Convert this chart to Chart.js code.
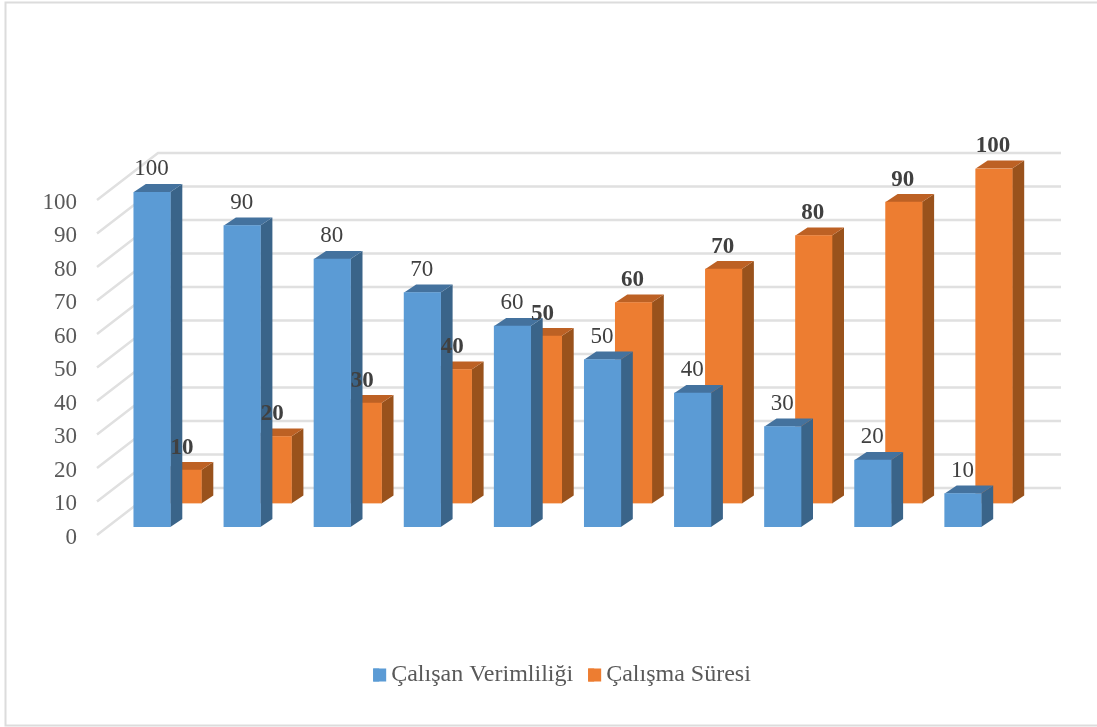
<!DOCTYPE html>
<html lang="tr">
<head>
<meta charset="utf-8">
<title>Çalışan Verimliliği ve Çalışma Süresi</title>
<script src="https://cdn.jsdelivr.net/npm/chart.js@4/dist/chart.umd.min.js"></script>
<style>
  html, body { margin: 0; padding: 0; background: #fff; }
  canvas { display: block; }
</style>
</head>
<body>
<canvas id="chart" width="1097" height="727"></canvas>
<script>
const categories = ['1', '2', '3', '4', '5', '6', '7', '8', '9', '10'];
const verimlilik = [100, 90, 80, 70, 60, 50, 40, 30, 20, 10];
const calismaSuresi = [10, 20, 30, 40, 50, 60, 70, 80, 90, 100];
const seriesNames = ['Çalışan Verimliliği', 'Çalışma Süresi'];

const FONT = '"Liberation Serif", "Times New Roman", serif';

// Pseudo-3D look: each series sits at its own depth, and every bar gets a
// side and a top face on top of the flat front face that Chart.js draws.
const FACE_DX = 12, FACE_DY = 8;
const LEGEND_SWATCH = 13;
const seriesStyle = [
  { dx: -15.5, dy: -8,    front: '#5b9bd5', side: '#3a6489', top: '#44729e', label: '#404040', weight: 'normal', labelDx: -0.5, labelDy: -23 },
  { dx: 15.5,  dy: -31.5, front: '#ed7d31', side: '#99521c', top: '#bd6124', label: '#404040', weight: 'bold',   labelDx: -1, labelDy: -22 }
];

const depthBars = {
  id: 'depthBars',
  // The y scale's labels sit left of its narrow box, so open its clip area.
  afterLayout(chart) {
    chart.scales.y.left = 0;
  },
  // Side walls: a receding diagonal at the axis, then a line along the back.
  beforeDatasetsDraw(chart) {
    const { ctx, scales: { y } } = chart;
    const wallLeft = chart.chartArea.left - 25.5;
    ctx.save();
    ctx.strokeStyle = '#e0e0e0';
    ctx.lineWidth = 2.5;
    for (const tick of y.ticks) {
      const py = y.getPixelForValue(tick.value);
      ctx.beginPath();
      ctx.moveTo(wallLeft, py);
      ctx.lineTo(wallLeft + 61, py - 47);
      ctx.lineTo(1061, py - 47);
      ctx.stroke();
    }
    ctx.restore();
  },
  beforeDatasetDraw(chart, args) {
    const { ctx } = chart;
    const s = seriesStyle[args.index];
    ctx.save();
    ctx.translate(s.dx, s.dy);
    for (const bar of args.meta.data) {
      const left = bar.x - bar.width / 2, right = bar.x + bar.width / 2;
      ctx.fillStyle = s.side;
      ctx.beginPath();
      ctx.moveTo(right, bar.y);
      ctx.lineTo(right + FACE_DX, bar.y - FACE_DY);
      ctx.lineTo(right + FACE_DX, bar.base - FACE_DY);
      ctx.lineTo(right, bar.base);
      ctx.closePath();
      ctx.fill();
      ctx.fillStyle = s.top;
      ctx.beginPath();
      ctx.moveTo(left, bar.y);
      ctx.lineTo(left + FACE_DX, bar.y - FACE_DY);
      ctx.lineTo(right + FACE_DX, bar.y - FACE_DY);
      ctx.lineTo(right, bar.y);
      ctx.closePath();
      ctx.fill();
    }
  },
  afterDatasetDraw(chart) {
    chart.ctx.restore();
  },
  // Value labels above each bar, drawn last so they stay over neighbouring bars.
  afterDatasetsDraw(chart) {
    const { ctx } = chart;
    ctx.save();
    ctx.textAlign = 'center';
    ctx.textBaseline = 'middle';
    chart.data.datasets.forEach((ds, i) => {
      const s = seriesStyle[i];
      ctx.fillStyle = s.label;
      ctx.font = `${s.weight} 23px ${FONT}`;
      chart.getDatasetMeta(i).data.forEach((bar, j) => {
        ctx.fillText(String(ds.data[j]), bar.x + s.dx + s.labelDx, bar.y + s.dy + s.labelDy);
      });
    });
    ctx.restore();
  },
  afterDraw(chart) {
    const { ctx, legend } = chart;
    ctx.save();
    // Legend swatches are wider than the slot the text is spaced from.
    legend.legendHitBoxes.forEach((box, i) => {
      ctx.fillStyle = seriesStyle[i].front;
      ctx.fillRect(box.left, box.top + (box.height - LEGEND_SWATCH) / 2, LEGEND_SWATCH, LEGEND_SWATCH);
    });
    // Thin frame round the whole chart.
    ctx.strokeStyle = '#dcdcdc';
    ctx.lineWidth = 2;
    ctx.strokeRect(5.5, 2.5, 1100, 723);
    ctx.restore();
  }
};

new Chart(document.getElementById('chart'), {
  type: 'bar',
  data: {
    labels: categories,
    datasets: [
      { label: seriesNames[0], data: verimlilik, backgroundColor: seriesStyle[0].front },
      { label: seriesNames[1], data: calismaSuresi, backgroundColor: seriesStyle[1].front }
    ]
  },
  options: {
    responsive: false,
    animation: false,
    events: [],
    layout: { padding: { left: 100.5, right: 73.5, top: 200, bottom: 30 } },
    datasets: { bar: { grouped: false, barThickness: 36.5 } },
    scales: {
      x: {
        grid: { display: false },
        border: { display: false },
        ticks: { display: false },
        afterFit(scale) { scale.height = 113; }
      },
      y: {
        min: 0,
        max: 100,
        grid: { display: false },
        border: { display: false },
        ticks: {
          stepSize: 10,
          padding: 37.5,
          labelOffset: 2.5,
          color: '#595959',
          font: { family: FONT, size: 23 }
        },
        afterFit(scale) { scale.width = 22; }
      }
    },
    plugins: {
      tooltip: { enabled: false },
      legend: {
        position: 'bottom',
        labels: {
          color: '#595959',
          font: { family: FONT, size: 24 },
          boxWidth: 6,
          boxHeight: LEGEND_SWATCH,
          padding: 15
        }
      }
    }
  },
  plugins: [depthBars]
});
</script>
</body>
</html>
